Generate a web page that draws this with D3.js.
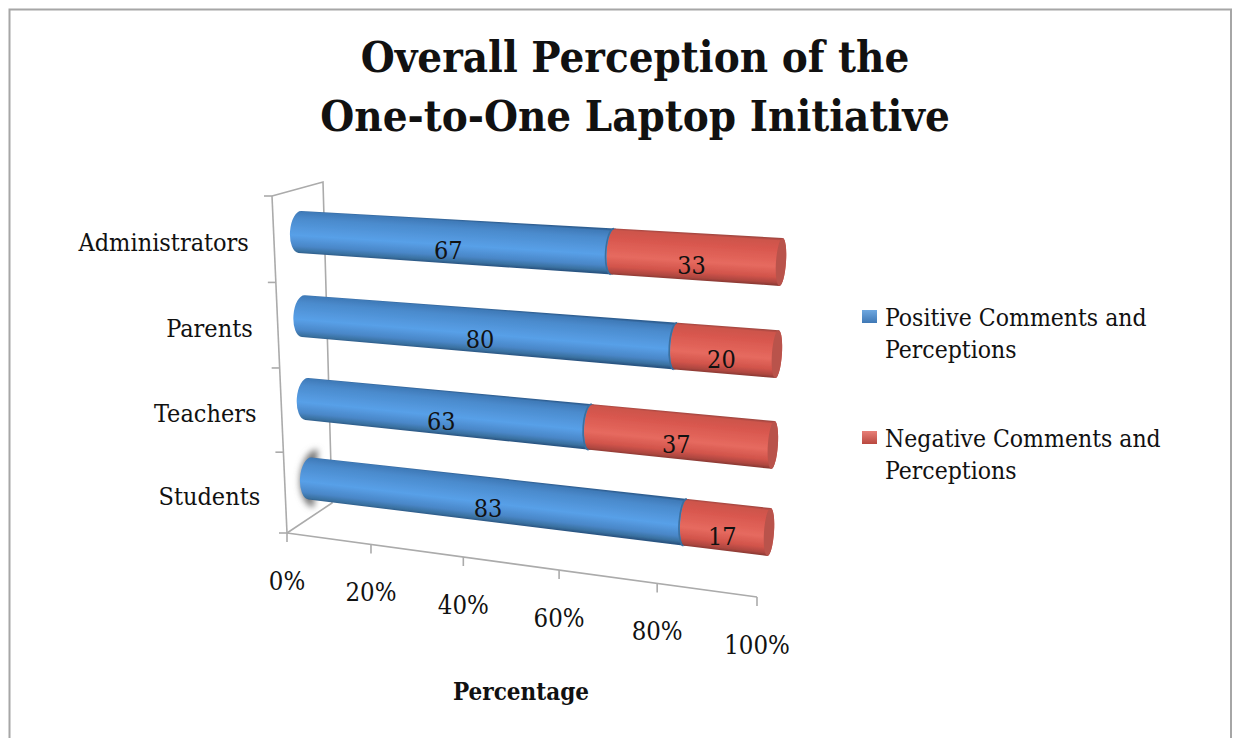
<!DOCTYPE html>
<html>
<head>
<meta charset="utf-8">
<script src="https://cdn.jsdelivr.net/npm/d3@7"></script>
<style>
  html, body { margin: 0; padding: 0; background: #fff; }
  text { font-family: "DejaVu Serif", serif; font-stretch: condensed; fill: #111; }
</style>
</head>
<body>
<div id="chart"></div>
<script>
// Data, bottom row first
var categories = ["Students", "Teachers", "Parents", "Administrators"];
var positive = [83, 63, 80, 67];
var negative = [17, 37, 20, 33];
var xTicks = [0, 20, 40, 60, 80, 100];
var xTickLabels = ["0%", "20%", "40%", "60%", "80%", "100%"];
var titleLines = ["Overall Perception of the", "One-to-One Laptop Initiative"];
var legendNames = [["Positive Comments and", "Perceptions"], ["Negative Comments and", "Perceptions"]];

var svgWidth = 1233;
var svgHeight = 738;

var svg = d3.select("#chart")
  .append("svg")
  .attr("width", svgWidth)
  .attr("height", svgHeight)
  .style("display", "block");

var defs = svg.append("defs");

defs.append("filter").attr("id", "soft")
  .attr("x", "-80%").attr("y", "-50%").attr("width", "260%").attr("height", "200%")
  .append("feGaussianBlur").attr("stdDeviation", 3);

defs.append("filter").attr("id", "barSoft")
  .attr("x", "-5%").attr("y", "-20%").attr("width", "110%").attr("height", "140%")
  .append("feGaussianBlur").attr("stdDeviation", 0.5);

// picture frame
svg.append("path")
  .attr("d", "M9.5,738V9.5H1231V738")
  .attr("fill", "none")
  .attr("stroke", "#a6a6a6")
  .attr("stroke-width", 2);

// the fake 3d: everything gets foreshortened a bit with pow scales
var depth = d3.scalePow().exponent(1.07).domain([0, 100]).range([0, 1]);
var rowPos = d3.scalePow().exponent(1.03).domain([0, categories.length - 1]);

var barLeftX = rowPos.copy().range([310, 300]);
var barRightX = rowPos.copy().range([769, 781]);
var barLeftY = rowPos.copy().range([478.5, 232]);
var barRightY = rowPos.copy().range([532, 262]);
var halfThick = d3.scaleLinear().domain([0, 100]).range([21, 24]);
var capRx = d3.scaleLinear().domain([0, 100]).range([10, 5]);

var tilt = 4 * Math.PI / 180;

function barPoint(row, value) {
  var f = depth(value);
  var x0 = barLeftX(row), x1 = barRightX(row);
  var y0 = barLeftY(row), y1 = barRightY(row);
  var h = halfThick(value);
  var cx = x0 + (x1 - x0) * f;
  var cy = y0 + (y1 - y0) * f;
  return {
    cx: cx, cy: cy, h: h, rx: capRx(value),
    topX: cx + Math.sin(tilt) * h, topY: cy - Math.cos(tilt) * h,
    botX: cx - Math.sin(tilt) * h, botY: cy + Math.cos(tilt) * h
  };
}

function arc(p, toX, toY, sweep) {
  return "A" + p.rx + "," + p.h + " 4 0 " + sweep + " " + toX + "," + toY;
}

// bulges left at the start, bulges right at the end
function segmentPath(row, from, to) {
  var a = barPoint(row, from), b = barPoint(row, to);
  return "M" + a.topX + "," + a.topY +
    "L" + b.topX + "," + b.topY +
    arc(b, b.botX, b.botY, 1) +
    "L" + a.botX + "," + a.botY +
    arc(a, a.topX, a.topY, 1) + "Z";
}

var blueStops = [[0, "#2f5f92"], [0.04, "#3f7ab8"], [0.2, "#4b8bcd"], [0.58, "#58a0e8"], [0.82, "#4a87c8"], [0.94, "#39709f"], [1, "#2a5582"]];
var redStops = [[0, "#a0463f"], [0.05, "#cd544b"], [0.25, "#d9584f"], [0.6, "#e66a5f"], [0.82, "#d2544b"], [0.94, "#ae4740"], [1, "#8a3933"]];

function addGradient(id, row, from, to, stops) {
  var a = barPoint(row, from), b = barPoint(row, to);
  var mx = (a.cx + b.cx) / 2, my = (a.cy + b.cy) / 2;
  var h = (a.h + b.h) / 2;
  var dx = b.cx - a.cx, dy = b.cy - a.cy;
  var len = Math.sqrt(dx * dx + dy * dy);
  var g = defs.append("linearGradient").attr("id", id)
    .attr("gradientUnits", "userSpaceOnUse")
    .attr("x1", mx + dy / len * h).attr("y1", my - dx / len * h)
    .attr("x2", mx - dy / len * h).attr("y2", my + dx / len * h);
  g.selectAll("stop").data(stops).enter().append("stop")
    .attr("offset", d => d[0])
    .attr("stop-color", d => d[1]);
}

// axes walls
var axisColor = "#ababab";
var frontAxisX = rowPos.copy().domain([0, categories.length]).range([287, 272]);
var frontAxisY = rowPos.copy().domain([0, categories.length]).range([533, 196]);
var xAxisX = depth.copy().range([287, 757]);
var xAxisY = depth.copy().range([533, 597]);

var walls = svg.append("g")
  .attr("fill", "none")
  .attr("stroke", axisColor)
  .attr("stroke-width", 1.6);

var rowEdges = d3.range(categories.length + 1);
walls.append("path").attr("d", "M" + frontAxisX(rowEdges.length - 1) + "," + frontAxisY(rowEdges.length - 1) + "L323,182L332,503L" + frontAxisX(0) + "," + frontAxisY(0));
walls.append("path").attr("d", "M" + frontAxisX(0) + "," + frontAxisY(0) + "L" + frontAxisX(rowEdges.length - 1) + "," + frontAxisY(rowEdges.length - 1));
walls.append("path").attr("d", "M" + xAxisX(0) + "," + xAxisY(0) + "L" + xAxisX(100) + "," + xAxisY(100));

walls.selectAll(".rowTick")
  .data(rowEdges)
  .enter()
  .append("line")
  .attr("class", "rowTick")
  .attr("x1", d => frontAxisX(d))
  .attr("y1", d => frontAxisY(d))
  .attr("x2", d => frontAxisX(d) - 8)
  .attr("y2", d => frontAxisY(d));

walls.selectAll(".valueTick")
  .data(xTicks)
  .enter()
  .append("line")
  .attr("class", "valueTick")
  .attr("x1", d => xAxisX(d))
  .attr("y1", d => xAxisY(d))
  .attr("x2", d => xAxisX(d))
  .attr("y2", d => xAxisY(d) + 9);

// soft grey smudge behind the first bar's end
svg.append("path")
  .attr("d", function() {
    var a = barPoint(0, 0);
    return "M" + (a.cx + 8) + "," + (a.cy - a.h - 8) +
      "A" + (a.rx + 6) + "," + (a.h + 8) + " 4 0 0 " + (a.cx + 4) + "," + (a.cy + a.h + 8) + "Z";
  })
  .attr("fill", "#777")
  .attr("filter", "url(#soft)");

// bars, back row first
var rows = d3.range(categories.length).reverse();
rows.forEach(function(row) {
  var pos = positive[row];
  addGradient("blue" + row, row, 0, pos, blueStops);
  addGradient("red" + row, row, pos, 100, redStops);

  var g = svg.append("g").attr("filter", "url(#barSoft)");
  g.append("path")
    .attr("d", segmentPath(row, 0, pos))
    .attr("fill", "url(#blue" + row + ")");

  g.append("path")
    .attr("d", segmentPath(row, pos, 100))
    .attr("fill", "url(#red" + row + ")");

  // dark seam where blue meets red
  var m = barPoint(row, pos);
  g.append("path")
    .attr("d", "M" + (m.botX - 1) + "," + m.botY + arc(m, m.topX - 1, m.topY, 1))
    .attr("fill", "none")
    .attr("stroke", "#3a6f9f")
    .attr("stroke-width", 1.6);

  // end cap
  var e = barPoint(row, 100);
  g.append("ellipse")
    .attr("transform", "rotate(4," + e.cx + "," + e.cy + ")")
    .attr("cx", e.cx)
    .attr("cy", e.cy)
    .attr("rx", e.rx)
    .attr("ry", e.h)
    .attr("fill", "#b9524b");
});

// value labels
var valueFont = 25;
function addValueLabel(row, at, value, shift) {
  var p = barPoint(row, at);
  svg.append("text")
    .attr("x", p.cx + shift)
    .attr("y", p.cy + 17.5)
    .attr("text-anchor", "middle")
    .attr("font-size", valueFont)
    .text(value);
}
rows.forEach(function(row) {
  addValueLabel(row, positive[row] / 2, positive[row], -1);
  addValueLabel(row, positive[row] + negative[row] / 2, negative[row], -5);
});

// category labels
svg.selectAll(".catLabel")
  .data(categories)
  .enter()
  .append("text")
  .attr("class", "catLabel")
  .attr("x", (d, i) => frontAxisX(i + 0.5) - 25)
  .attr("y", (d, i) => frontAxisY(i + 0.5) + 12)
  .attr("text-anchor", "end")
  .attr("font-size", 25)
  .text(d => d);

// x tick labels
svg.selectAll(".xLabel")
  .data(xTicks)
  .enter()
  .append("text")
  .attr("class", "xLabel")
  .attr("x", d => xAxisX(d))
  .attr("y", d => xAxisY(d) + 57)
  .attr("text-anchor", "middle")
  .attr("font-size", 25.5)
  .text((d, i) => xTickLabels[i]);

// title
svg.selectAll(".title")
  .data(titleLines)
  .enter()
  .append("text")
  .attr("class", "title")
  .attr("x", 635)
  .attr("y", (d, i) => 72 + i * 59)
  .attr("text-anchor", "middle")
  .attr("font-size", 43.4)
  .attr("font-weight", "bold")
  .text(d => d);

svg.append("text")
  .attr("x", 521)
  .attr("y", 700)
  .attr("text-anchor", "middle")
  .attr("font-size", 24)
  .attr("font-weight", "bold")
  .text("Percentage");

// legend
var legendColors = [["#6fa8e0", "#3f78b5"], ["#e88078", "#b9483f"]];
legendNames.forEach(function(lines, i) {
  var top = 310 + i * 121;
  var grad = defs.append("linearGradient").attr("id", "legend" + i)
    .attr("x1", 0).attr("y1", 0).attr("x2", 0).attr("y2", 1);
  grad.append("stop").attr("offset", 0).attr("stop-color", legendColors[i][0]);
  grad.append("stop").attr("offset", 1).attr("stop-color", legendColors[i][1]);

  svg.append("rect")
    .attr("x", 862)
    .attr("y", top)
    .attr("width", 15)
    .attr("height", 13)
    .attr("fill", "url(#legend" + i + ")");

  svg.selectAll(".legendLine" + i)
    .data(lines)
    .enter()
    .append("text")
    .attr("class", "legendLine" + i)
    .attr("x", 885)
    .attr("y", (d, j) => top + 16 + j * 32)
    .attr("font-size", 24.5)
    .text(d => d);
});
</script>
</body>
</html>
